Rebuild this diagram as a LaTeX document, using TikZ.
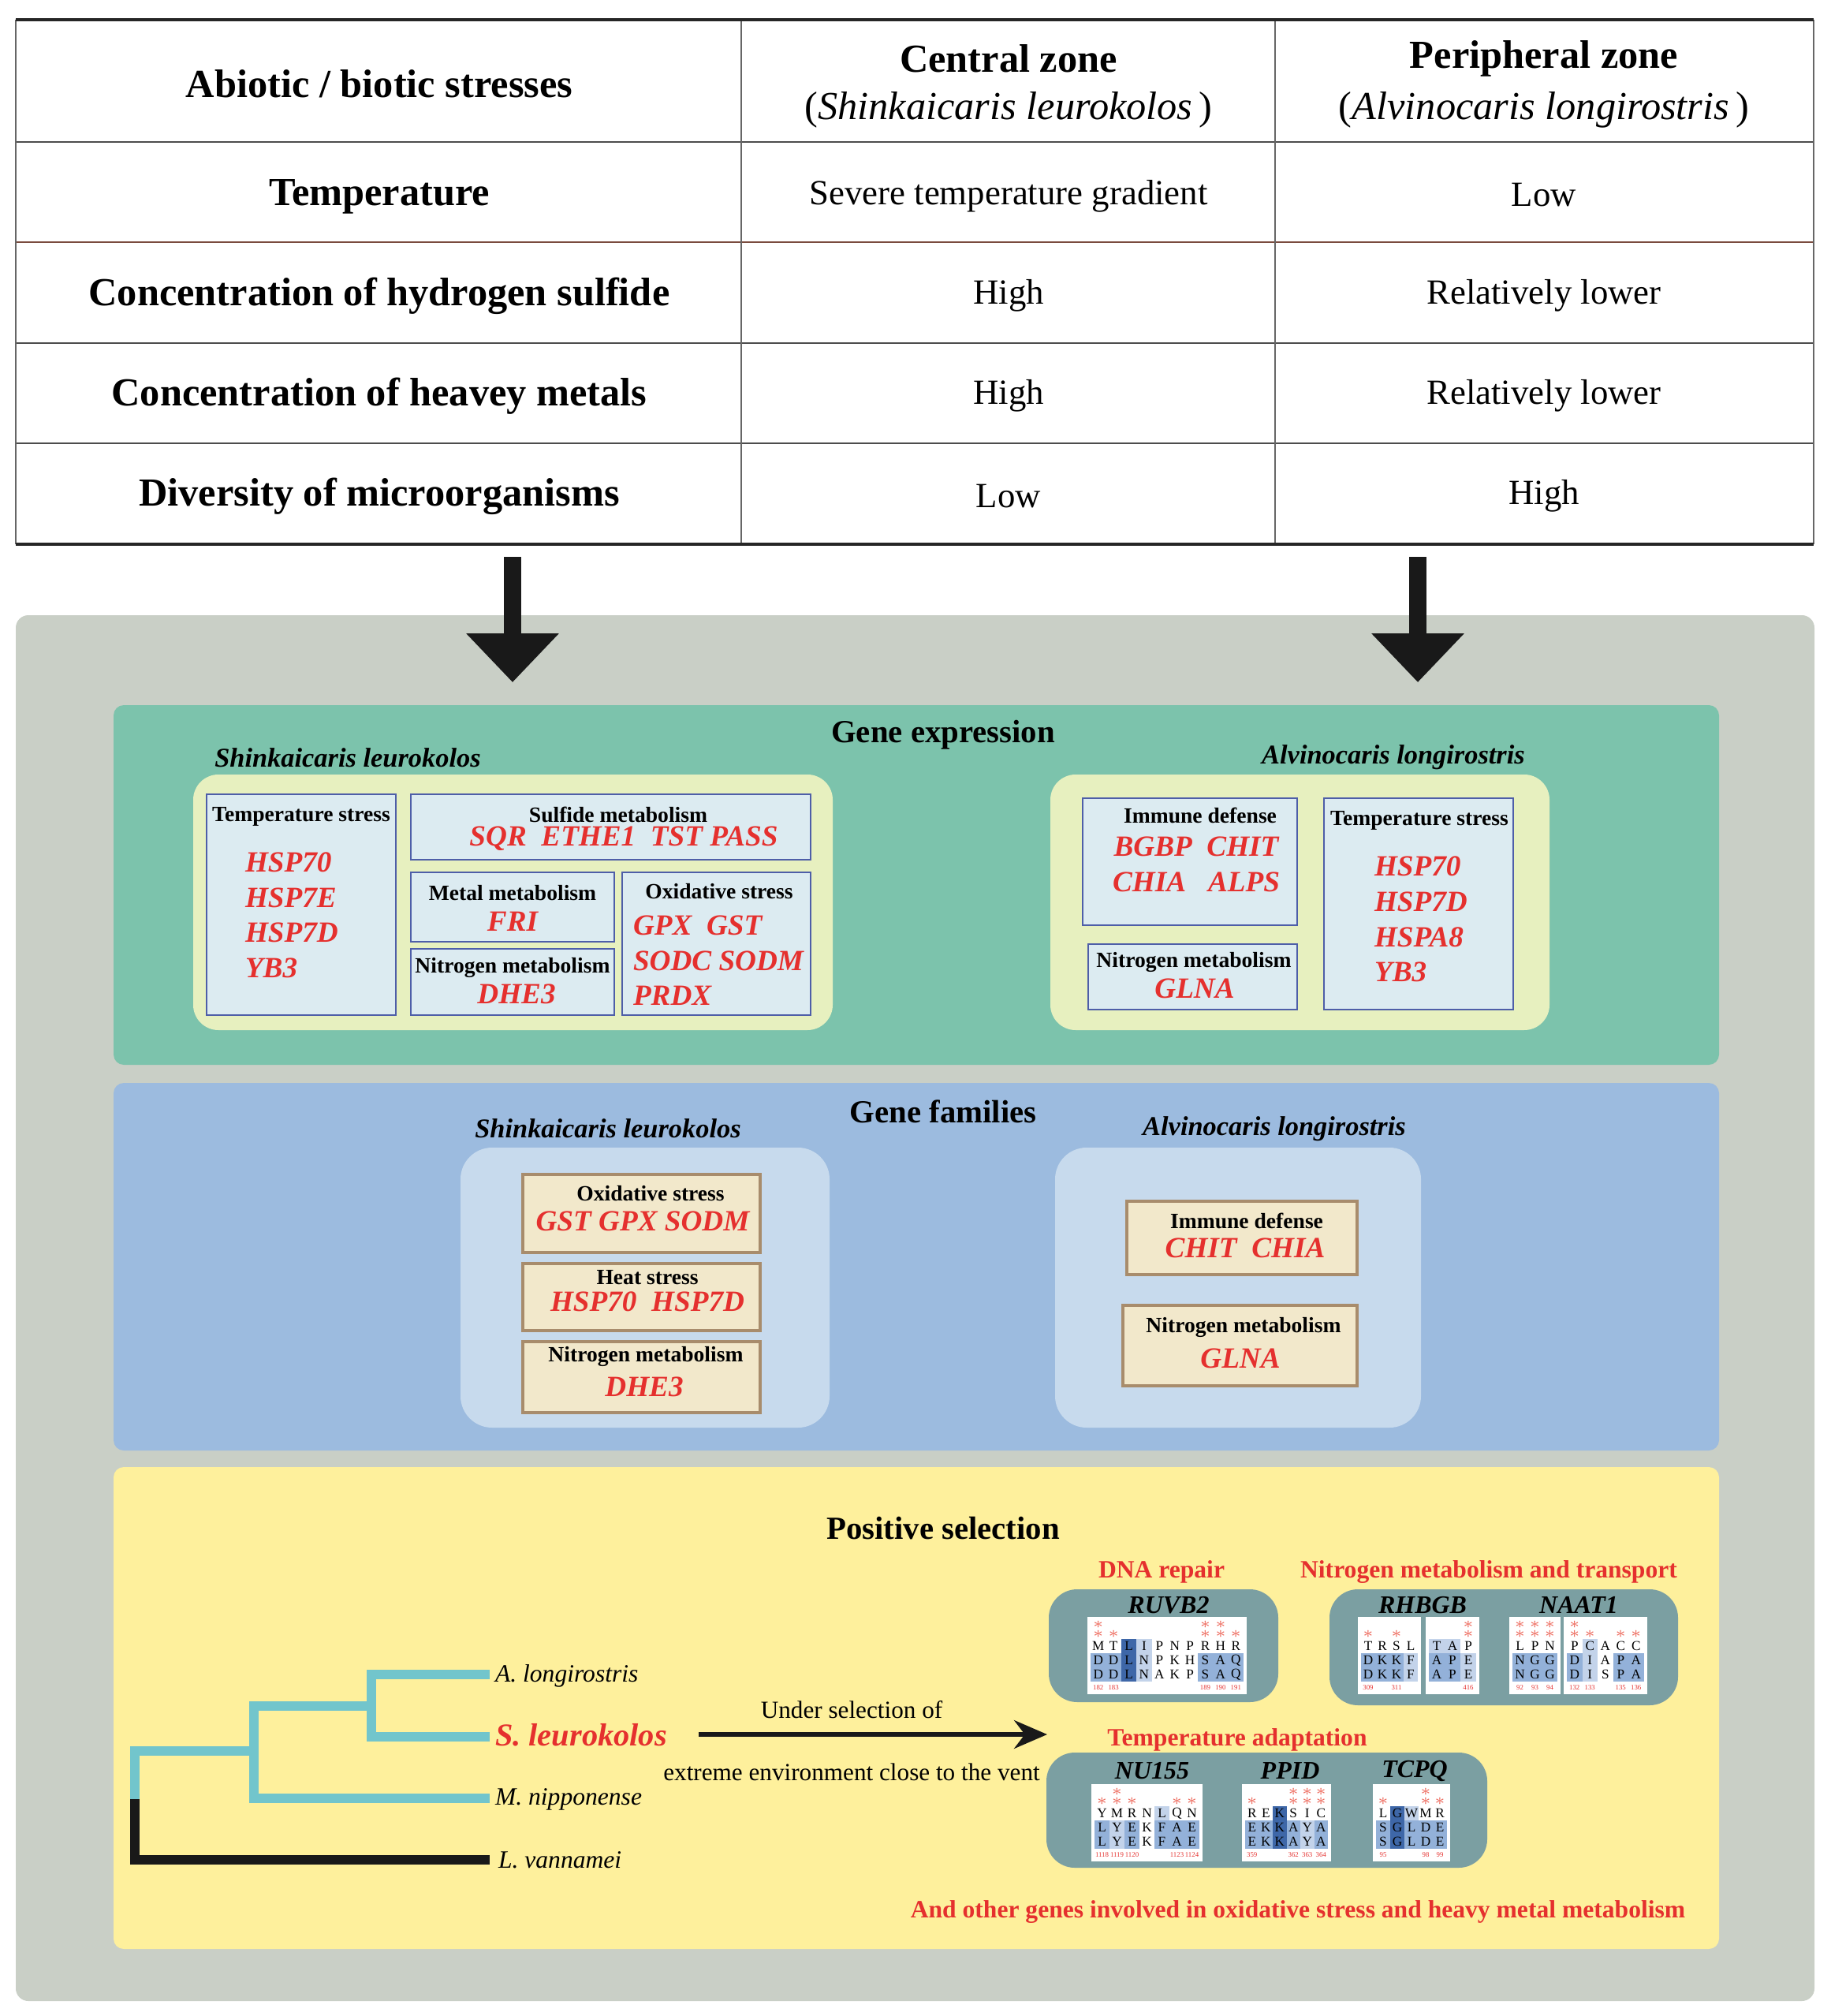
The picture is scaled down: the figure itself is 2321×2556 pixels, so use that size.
\documentclass[tikz,border=0pt]{standalone}
\usepackage{fontspec}
\setmainfont{Liberation Serif}
\usetikzlibrary{arrows.meta}
\definecolor{greyp}{HTML}{C9CFC6}
\definecolor{tealp}{HTML}{7CC3AC}
\definecolor{innery}{HTML}{E7F0BF}
\definecolor{bxfill}{HTML}{DCEBF1}
\definecolor{bxdraw}{HTML}{4E5EA8}
\definecolor{bluep}{HTML}{9CBBDF}
\definecolor{innerb}{HTML}{C7DAED}
\definecolor{fbfill}{HTML}{F2E8CB}
\definecolor{fbdraw}{HTML}{A88C6C}
\definecolor{yelp}{HTML}{FEF09C}
\definecolor{alp}{HTML}{7B9FA2}
\definecolor{treec}{HTML}{72C5CC}
\definecolor{redt}{HTML}{E5302E}
\definecolor{starc}{HTML}{EE6B5E}
\definecolor{brownl}{HTML}{7A4B3E}
\colorlet{alsh0}{white}
\definecolor{alsh1}{HTML}{C3D3EA}
\definecolor{alsh2}{HTML}{93B1D9}
\definecolor{alsh3}{HTML}{3E67A8}
\tikzset{
 every node/.style={inner sep=0pt, outer sep=0pt},
 tin/.style={line width=0.5pt, draw=black!70},
 tout/.style={line width=0.9pt, draw=black!85},
 tvert/.style={line width=0.35pt, draw=black!60},
 hb/.style={font=\fontsize{12.6}{15}\selectfont\bfseries},
 hi/.style={font=\fontsize{12.6}{15}\selectfont},
 tv/.style={font=\fontsize{11.2}{13}\selectfont},
 ptitle/.style={font=\fontsize{10.2}{12}\selectfont\bfseries},
 sp/.style={font=\fontsize{8.6}{10}\selectfont\bfseries\itshape},
 gt/.style={font=\fontsize{6.9}{8}\selectfont\bfseries},
 gn/.style={text=redt, font=\fontsize{9.3}{11}\selectfont\bfseries\itshape},
 gbox/.style={fill=bxfill, draw=bxdraw, line width=0.7pt},
 fbox/.style={fill=fbfill, draw=fbdraw, line width=0.8pt},
 bigarrow/.style={line width=5.5pt, draw=black!90, -{Triangle[width=28.5pt,length=15.5pt]}},
 selarrow/.style={line width=1.3pt, draw=black!90, -{Stealth[width=9pt,length=10.5pt]}},
 treeb/.style={line width=3pt, draw=treec, line join=miter},
 treek/.style={line width=3pt, draw=black!90, line join=miter},
 tlab/.style={font=\fontsize{7.9}{9}\selectfont\itshape},
 slab/.style={text=redt, font=\fontsize{10.1}{12}\selectfont\bfseries\itshape},
 seltxt/.style={font=\fontsize{7.8}{9}\selectfont},
 redh/.style={text=redt, font=\fontsize{7.9}{9}\selectfont\bfseries},
 altitle/.style={font=\fontsize{8}{9}\selectfont\bfseries\itshape},
 alt/.style={font=\fontsize{4.3}{4.5}\selectfont},
 alst/.style={text=starc, font=\fontsize{5}{5}\selectfont},
 alnum/.style={text=redt, font=\fontsize{2.2}{2.5}\selectfont},
}
% #1 left x, #2 top y, #3 column width, #4 number of columns, #5 data, #6 name prefix
\newcommand\alblock[6]{%
  \fill[white] (#1,#2) rectangle ({#1+8+#4*#3},{#2+98});
  \foreach \la/\lb/\lc/\ns/\ha/\hb/\hc/\nm [count=\ci] in {#5}{%
    \pgfmathsetmacro\xl{#1+4+(\ci-1)*#3}%
    \pgfmathsetmacro\xr{\xl+#3}%
    \pgfmathsetmacro\xc{\xl+#3/2}%
    \fill[alsh\ha] (\xl,#2+28) rectangle (\xr,#2+46);
    \fill[alsh\hb] (\xl,#2+46) rectangle (\xr,#2+64);
    \fill[alsh\hc] (\xl,#2+64) rectangle (\xr,#2+82);
    \node[alt] (#6-\ci-a) at (\xc,#2+37) {\la};
    \node[alt] (#6-\ci-b) at (\xc,#2+55) {\lb};
    \node[alt] (#6-\ci-c) at (\xc,#2+73) {\lc};
    \ifnum\ns>0 \node[alst] (#6-\ci-s1) at (\xc,#2+22) {$\ast$};\fi
    \ifnum\ns>1 \node[alst] (#6-\ci-s2) at (\xc,#2+10) {$\ast$};\fi
    \node[alnum] (#6-\ci-n) at (\xc,#2+90) {\nm};
  }%
}
\begin{document}
\begin{tikzpicture}[x=0.25pt,y=-0.25pt]
\useasboundingbox (0,0) rectangle (2321,2556);
\fill[white] (0,0) rectangle (2321,2556);

% ---------------- table ----------------
\foreach \yy in {180,435,562} \draw[tin] (20,\yy) -- (2300,\yy);
\draw[tin, draw=brownl] (20,307) -- (2300,307);
\foreach \xx in {20,940,1617,2300} \draw[tvert] (\xx,25) -- (\xx,690);
\draw[tout] (20,25) -- (2300,25);
\draw[tout] (20,690) -- (2300,690);

\node[hb] (h1) at (481,106) {Abiotic / biotic stresses};
\node[hb] (h2) at (1279,74) {Central zone};
\node[hi] (h2b) at (1279,139) {(\textit{Shinkaicaris leurokolos\,})};
\node[hb] (h3) at (1958,74) {Peripheral zone};
\node[hi] (h3b) at (1958,139) {(\textit{Alvinocaris longirostris\,})};

\node[hb] (r1) at (481,249) {Temperature};
\node[tv] (r1a) at (1279,249) {Severe temperature gradient};
\node[tv] (r1b) at (1958,247) {Low};
\node[hb] (r2) at (481,375) {Concentration of hydrogen sulfide};
\node[tv] (r2a) at (1279,375) {High};
\node[tv] (r2b) at (1958,375) {Relatively lower};
\node[hb] (r3) at (481,502) {Concentration of heavey metals};
\node[tv] (r3a) at (1279,502) {High};
\node[tv] (r3b) at (1958,502) {Relatively lower};
\node[hb] (r4) at (481,629) {Diversity of microorganisms};
\node[tv] (r4a) at (1279,629) {Low};
\node[tv] (r4b) at (1958,629) {High};

% ---------------- grey panel ----------------
\fill[greyp, rounded corners=4pt] (20,780) rectangle (2301,2537);

\coordinate (aLs) at (650,706);
\coordinate (aLe) at (650,865);
\coordinate (aRs) at (1798,706);
\coordinate (aRe) at (1798,865);
\draw[bigarrow] (aLs) -- (aLe);
\draw[bigarrow] (aRs) -- (aRe);

% ---------------- gene expression ----------------
\fill[tealp, rounded corners=3.25pt] (144,894) rectangle (2180,1350);
\node[ptitle] (ge) at (1196,932) {Gene expression};
\node[sp] (geL) at (441,961) {Shinkaicaris leurokolos};
\node[sp] (geR) at (1767,960) {Alvinocaris longirostris};
\fill[innery, rounded corners=8pt] (245,982) rectangle (1056,1306);
\fill[innery, rounded corners=8pt] (1332,982) rectangle (1965,1306);

\draw[gbox] (262,1007) rectangle (502,1287);
\draw[gbox] (521,1007) rectangle (1028,1090);
\draw[gbox] (521,1106) rectangle (779,1194);
\draw[gbox] (521,1203) rectangle (779,1287);
\draw[gbox] (789,1106) rectangle (1028,1287);

\node[gt] (ts1) at (382,1035) {Temperature stress};
\node[gn, anchor=west] (ts1a) at (311,1093) {HSP70};
\node[gn, anchor=west] (ts1b) at (311,1138) {HSP7E};
\node[gn, anchor=west] (ts1c) at (311,1182) {HSP7D};
\node[gn, anchor=west] (ts1d) at (311,1227) {YB3};
\node[gt] (sm) at (784,1033) {Sulfide metabolism};
\node[gn] (smg) at (791,1063) {SQR\ \ ETHE1\ \ TST PASS};
\node[gt] (mm) at (650,1132) {Metal metabolism};
\node[gn] (mmg) at (650,1168) {FRI};
\node[gt] (nm1) at (650,1227) {Nitrogen metabolism};
\node[gn] (nm1g) at (655,1260) {DHE3};
\node[gt] (os1) at (912,1130) {Oxidative stress};
\node[gn, anchor=west] (os1a) at (803,1173) {GPX\ \ GST};
\node[gn, anchor=west] (os1b) at (803,1218) {SODC SODM};
\node[gn, anchor=west] (os1c) at (803,1262) {PRDX};

\draw[gbox] (1373,1012) rectangle (1645,1173);
\draw[gbox] (1380,1197) rectangle (1645,1280);
\draw[gbox] (1679,1012) rectangle (1919,1280);
\node[gt] (id1) at (1522,1034) {Immune defense};
\node[gn] (id1a) at (1517,1073) {BGBP\ \ CHIT};
\node[gn] (id1b) at (1517,1118) {CHIA\ \ \ ALPS};
\node[gt] (nm2) at (1514,1220) {Nitrogen metabolism};
\node[gn] (nm2g) at (1515,1253) {GLNA};
\node[gt] (ts2) at (1800,1040) {Temperature stress};
\node[gn, anchor=west] (ts2a) at (1743,1098) {HSP70};
\node[gn, anchor=west] (ts2b) at (1743,1143) {HSP7D};
\node[gn, anchor=west] (ts2c) at (1743,1188) {HSPA8};
\node[gn, anchor=west] (ts2d) at (1743,1232) {YB3};

% ---------------- gene families ----------------
\fill[bluep, rounded corners=3.25pt] (144,1373) rectangle (2180,1839);
\node[ptitle] (gf) at (1196,1409) {Gene families};
\node[sp] (gfL) at (771,1431) {Shinkaicaris leurokolos};
\node[sp] (gfR) at (1616,1431) {Alvinocaris longirostris};
\fill[innerb, rounded corners=10pt] (584,1455) rectangle (1052,1810);
\fill[innerb, rounded corners=10pt] (1338,1455) rectangle (1802,1810);
\draw[fbox] (663,1489) rectangle (964,1588);
\draw[fbox] (663,1602) rectangle (964,1687);
\draw[fbox] (663,1701) rectangle (964,1791);
\draw[fbox] (1429,1523) rectangle (1721,1616);
\draw[fbox] (1424,1655) rectangle (1721,1757);
\node[gt] (f1) at (825,1513) {Oxidative stress};
\node[gn] (f1g) at (815,1548) {GST GPX SODM};
\node[gt] (f2) at (821,1620) {Heat stress};
\node[gn] (f2g) at (821,1650) {HSP70\ \ HSP7D};
\node[gt] (f3) at (819,1720) {Nitrogen metabolism};
\node[gn] (f3g) at (817,1758) {DHE3};
\node[gt] (f4) at (1581,1548) {Immune defense};
\node[gn] (f4g) at (1579,1582) {CHIT\ \ CHIA};
\node[gt] (f5) at (1577,1683) {Nitrogen metabolism};
\node[gn] (f5g) at (1573,1722) {GLNA};

% ---------------- positive selection ----------------
\fill[yelp, rounded corners=3.25pt] (144,1860) rectangle (2180,2471);
\node[ptitle] (ps) at (1196,1938) {Positive selection};

% tree
\node[tlab, anchor=west] (la) at (628,2125) {A. longirostris};
\node[slab, anchor=west] (ls) at (628,2200) {S. leurokolos};
\node[tlab, anchor=west] (lm) at (628,2281) {M. nipponense};
\node[tlab, anchor=west] (lv) at (632,2358) {L. vannamei};
\coordinate (n1) at (471,2163);
\coordinate (n2) at (322,2220);
\coordinate (rt) at (171,2286);
\draw[treeb] ([xshift=-1.75pt]la.west |- 0,2123) -| (471,2202) -- ([xshift=-1.75pt]ls.west |- 0,2202);
\draw[treeb] ([xshift=-1.75pt]lm.west |- 0,2280) -| (n1 -| 322,0) -- (n1);
\draw[treeb] (rt) |- (n2);
\draw[treek] (171,2281) |- ([xshift=-2.75pt]lv.west |- 0,2358);

\coordinate (sa) at (886,2199);
\coordinate (se) at (1328,2199);
\draw[selarrow] (sa) -- (se);
\node[seltxt] (us) at (1080,2168) {Under selection of};
\node[seltxt] (ee) at (1080,2247) {extreme environment close to the vent};

% alignment panels
\node[redh] (dna) at (1473,1993) {DNA repair};
\node[redh] (nmt) at (1888,1993) {Nitrogen metabolism and transport};
\node[redh] (tad) at (1569,2206) {Temperature adaptation};
\fill[alp, rounded corners=9pt] (1330,2015) rectangle (1621,2158);
\fill[alp, rounded corners=9pt] (1686,2015) rectangle (2128,2162);
\fill[alp, rounded corners=9pt] (1327,2222) rectangle (1886,2368);
\node[altitle] (t1) at (1482,2035) {RUVB2};
\node[altitle] (t2) at (1804,2035) {RHBGB};
\node[altitle] (t3) at (2002,2035) {NAAT1};
\node[altitle] (t4) at (1461,2245) {NU155};
\node[altitle] (t5) at (1636,2245) {PPID};
\node[altitle] (t6) at (1794,2245) {TCPQ};

\alblock{1379}{2050}{19.4}{10}{M/D/D/2/0/2/2/182, T/D/D/1/0/2/2/183, L/L/L/0/3/3/3/{}, I/N/N/0/1/1/1/{}, P/P/A/0/0/0/0/{}, N/K/K/0/0/0/0/{}, P/H/P/0/0/0/0/{}, R/S/S/2/0/2/2/189, H/A/A/2/0/2/2/190, R/Q/Q/1/0/2/2/191}{ruvb}
\alblock{1722}{2050}{18}{4}{T/D/D/1/0/2/2/309, R/K/K/0/0/2/2/{}, S/K/K/1/0/2/2/311, L/F/F/0/0/1/1/{}}{rha}
\alblock{1808}{2050}{20}{3}{T/A/A/0/1/2/2/{}, A/P/P/0/1/2/2/{}, P/E/E/2/0/1/1/416}{rhb}
\alblock{1914}{2050}{19}{3}{L/N/N/2/0/2/2/92, P/G/G/2/0/2/2/93, N/G/G/2/0/2/2/94}{naa}
\alblock{1983}{2050}{19.5}{5}{P/D/D/2/0/2/2/132, C/I/I/1/1/1/1/133, A/A/S/0/0/0/0/{}, C/P/P/1/0/2/2/135, C/A/A/1/0/2/2/136}{nab}
\alblock{1384}{2262}{19}{7}{Y/L/L/1/0/2/2/1118, M/Y/Y/2/0/1/1/1119, R/E/E/1/0/2/2/1120, N/K/K/0/0/0/0/{}, L/F/F/0/1/2/2/{}, Q/A/A/1/0/2/2/1123, N/E/E/1/0/2/2/1124}{nu}
\alblock{1575}{2262}{17.5}{6}{R/E/E/1/0/2/2/359, E/K/K/0/0/2/2/{}, K/K/K/0/3/3/3/{}, S/A/A/2/0/2/2/362, I/Y/Y/2/0/1/1/363, C/A/A/2/0/2/2/364}{pp}
\alblock{1741}{2262}{18}{5}{L/S/S/1/0/2/2/95, G/G/G/0/3/3/3/{}, W/L/L/0/1/2/2/{}, M/D/D/2/0/2/2/98, R/E/E/1/0/2/2/99}{tc}

\node[redh] (oth) at (1646,2424) {And other genes involved in oxidative stress and heavy metal metabolism};
\end{tikzpicture}
\end{document}
